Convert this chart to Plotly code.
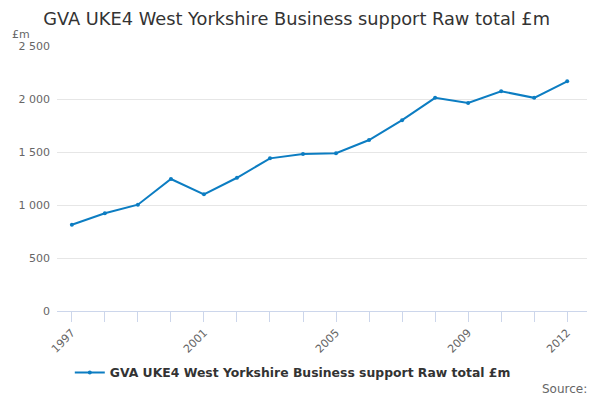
import plotly.graph_objects as go

years = list(range(1997, 2013))
values = [814, 922, 1003, 1245, 1101, 1257, 1440, 1481, 1488, 1613, 1800, 2011, 1962, 2073, 2011, 2167]
labeled_years = [1997, 2001, 2005, 2009, 2012]
series_name = 'GVA UKE4 West Yorkshire Business support Raw total £m'

font = 'DejaVu Sans'

line = go.Scatter(x=years,
                  y=values,
                  name=series_name,
                  mode='lines+markers',
                  line=dict(color='#0c7dc2', width=2),
                  marker=dict(color='#0c7dc2', size=4))

tick_text = [str(y) if y in labeled_years else '' for y in years]

fig = go.Figure(data=[line])
fig.update_layout(
    width=600, height=400,
    paper_bgcolor='white', plot_bgcolor='white',
    margin=dict(l=57, r=13, t=46, b=89, autoexpand=False),
    font=dict(family=font, color='#666666', size=11),
    title=dict(text=series_name, x=0.072, xanchor='left', y=0.952, yanchor='middle',
               font=dict(family=font, size=17.8, color='#333333')),
    showlegend=True,
    legend=dict(orientation='h', xref='container', x=0.488, xanchor='center',
                y=-0.177, yanchor='top',
                font=dict(family=font, size=12.4, color='#333333', weight='bold')),
    annotations=[
        dict(text='£m', xref='paper', yref='paper', x=-0.088, y=1.01, xanchor='left',
             yanchor='bottom', showarrow=False, font=dict(family=font, size=11, color='#666666')),
        dict(text='Source:', xref='paper', yref='paper', x=1.003, y=-0.26, xanchor='right',
             yanchor='top', showarrow=False, font=dict(family=font, size=12, color='#666666')),
    ],
)
fig.update_xaxes(range=[1996.55, 2012.6], tickvals=years, ticktext=tick_text,
                 tickangle=-45, showgrid=False, zeroline=False, automargin=False,
                 showline=True, linecolor='#ccd6eb', linewidth=1,
                 ticks='outside', ticklen=10, tickcolor='#ccd6eb',
                 tickfont=dict(family=font, size=11, color='#666666'))
fig.update_yaxes(range=[0, 2500], tickvals=[0, 500, 1000, 1500, 2000, 2500],
                 ticktext=['0', '500', '1 000', '1 500', '2 000', '2 500'],
                 showgrid=True, gridcolor='#e6e6e6', zeroline=False, automargin=False,
                 showline=False, ticks='', ticklabelstandoff=6,
                 tickfont=dict(family=font, size=11, color='#666666'))

# the page body has a default 8px margin, drop it so the figure fills the window
fig.write_html("out.html", config={'displayModeBar': False},
               post_script="document.body.style.margin = '0';")
